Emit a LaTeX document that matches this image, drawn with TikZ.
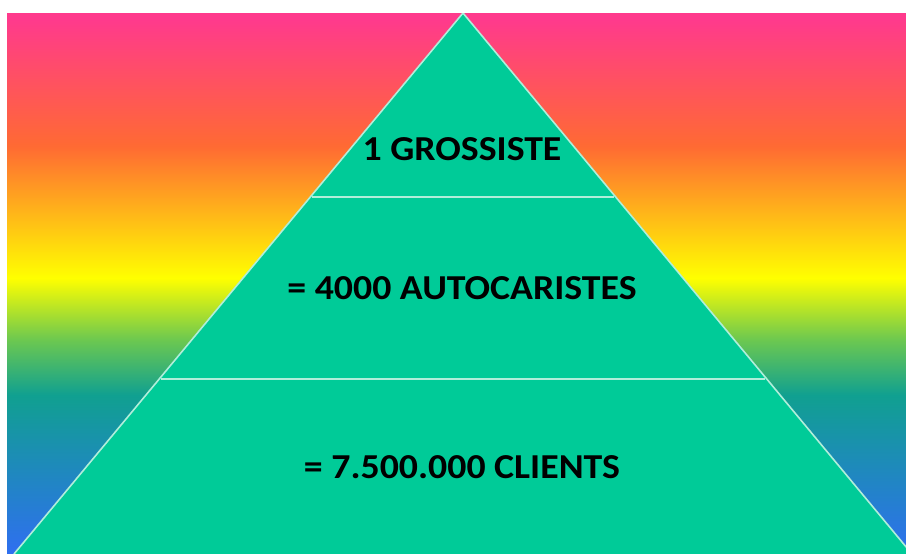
\documentclass[tikz,border=0pt]{standalone}
\usepackage{fontspec}
\setmainfont{Carlito}
\definecolor{bgpink}{HTML}{FF3A8C}
\definecolor{bgorange}{HTML}{FF6A33}
\definecolor{bgyellow}{HTML}{FFFF00}
\definecolor{bggreen}{HTML}{6CC850}
\definecolor{bgteal}{HTML}{10A090}
\definecolor{bgblue}{HTML}{2F6FF0}
\definecolor{pyrfill}{HTML}{00CB98}
\definecolor{pyredge}{HTML}{B0EEDA}
\pgfdeclareverticalshading{rainbowbg}{100bp}{%
  color(0bp)=(bgblue); color(25bp)=(bgblue);
  color(39.7bp)=(bgteal); color(44.8bp)=(bggreen);
  color(50.5bp)=(bgyellow); color(62.7bp)=(bgorange);
  color(74.4bp)=(bgpink); color(100bp)=(bgpink)}
\tikzset{
  edgeline/.style={draw=pyredge, line width=1.6pt},
  levellabel/.style={font=\bfseries\fontsize{35}{38}\selectfont, text=black, inner sep=0pt, anchor=center, xscale=1.08}
}
\begin{document}
\begin{tikzpicture}[x=1pt,y=-1pt]
\useasboundingbox (0,0) rectangle (906,554);
\fill[white] (0,0) rectangle (906,554);
\shade[shading=rainbowbg] (7,13) rectangle (906,554);
\coordinate (apex) at (463,13);
\coordinate (bl) at (14,554);
\coordinate (br) at (912,554);
\coordinate (l1) at (312,197);
\coordinate (r1) at (614,197);
\coordinate (l2) at (161,379);
\coordinate (r2) at (765,379);
\begin{scope}
\clip (7,13) rectangle (906,554);
\fill[pyrfill] (apex) -- (br) -- (bl) -- cycle;
\draw[edgeline] (bl) -- (apex) -- (br);
\end{scope}
\draw[edgeline] (l1) -- (r1);
\draw[edgeline] (l2) -- (r2);
\node[levellabel] (t1) at (462,149) {1 GROSSISTE};
\node[levellabel] (t2) at (462,288) {= 4000 AUTOCARISTES};
\node[levellabel] (t3) at (462,467) {= 7.500.000 CLIENTS};
\end{tikzpicture}
\end{document}
